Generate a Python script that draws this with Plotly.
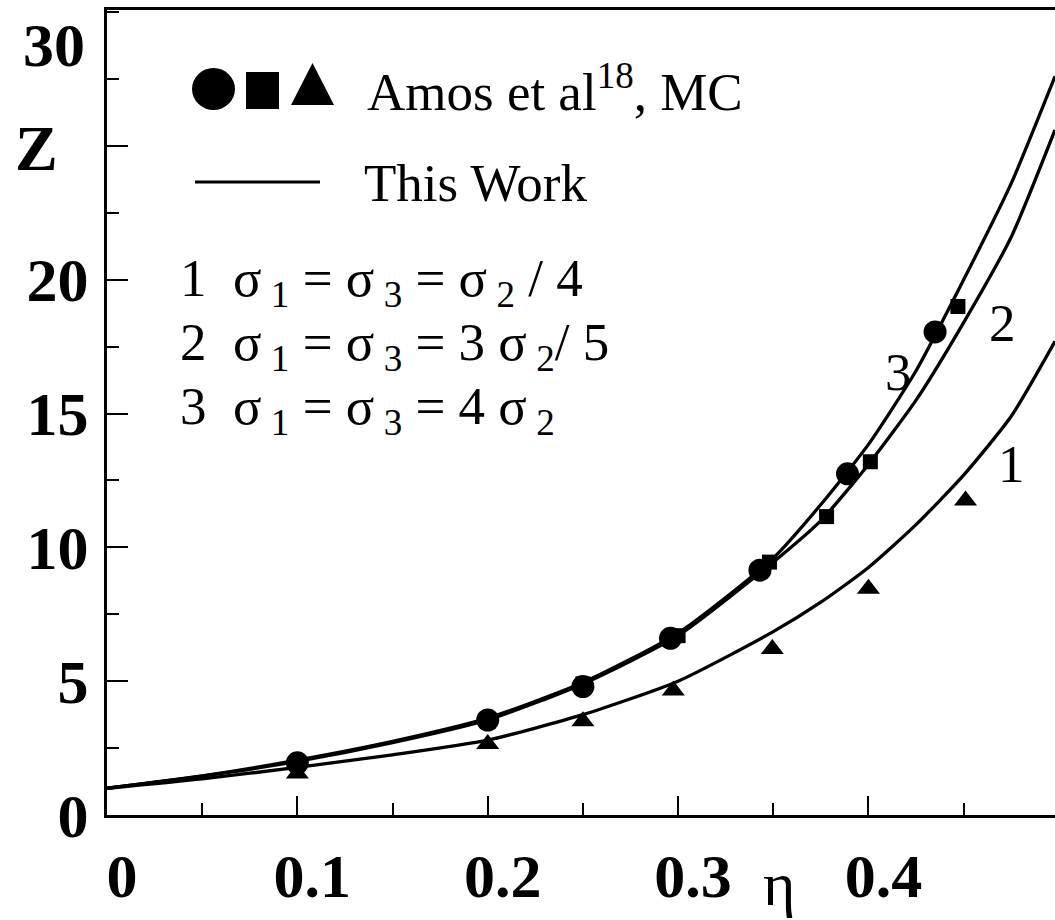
import plotly.graph_objects as go

# ---------------- data ----------------
eta_curve = [0.0, 0.05, 0.1, 0.15, 0.2, 0.25, 0.3, 0.35, 0.375, 0.4, 0.425, 0.45, 0.475, 0.498]
z_curve1 = [1.0, 1.35, 1.78, 2.25, 2.8, 3.75, 5.0, 6.85, 7.95, 9.25, 10.85, 12.7, 14.9, 17.7]
z_curve2 = [1.0, 1.45, 2.0, 2.7, 3.55, 4.9, 6.7, 9.45, 11.0, 13.1, 15.5, 18.4, 21.6, 25.6]
z_curve3 = [1.0, 1.46, 2.05, 2.75, 3.62, 4.95, 6.8, 9.6, 11.6, 13.85, 16.6, 20.0, 23.6, 27.6]

eta_circle = [0.1, 0.2, 0.25, 0.296, 0.343, 0.389, 0.435]
z_circle = [1.95, 3.55, 4.8, 6.6, 9.15, 12.75, 18.05]
eta_square = [0.1, 0.2, 0.25, 0.3, 0.348, 0.378, 0.401, 0.447]
z_square = [1.9, 3.5, 4.9, 6.7, 9.45, 11.15, 13.2, 19.0]
eta_triangle = [0.1, 0.2, 0.25, 0.2975, 0.3495, 0.4, 0.451]
z_triangle = [1.55, 2.65, 3.5, 4.65, 6.2, 8.45, 11.75]

x_tickvals = [0, 0.1, 0.2, 0.3, 0.4]
x_ticktext = ["0", "0.1", "0.2", "0.3", "0.4"]
y_tickvals = [0, 5, 10, 15, 20, 25]
y_ticktext = ["0", "5", "10", "15", "20", ""]

curve_labels = ["1", "2", "3"]
legend_lines = [
    "1  σ<sub> 1</sub> = σ<sub> 3</sub> = σ<sub> 2</sub> / 4",
    "2  σ<sub> 1</sub> = σ<sub> 3</sub> = 3 σ<sub> 2</sub>/ 5",
    "3  σ<sub> 1</sub> = σ<sub> 3</sub> = 4 σ<sub> 2</sub>",
]

# ---------------- layout geometry ----------------
W, H = 1055, 920
L, T, B = 107, 10, 105
PW, PH = W - L, H - T - B
def px(x):
    return (x - L) / PW
def py(y):
    return (H - B - y) / PH

SERIF = "Liberation Serif, Times New Roman, serif"
BLACK = "black"
TICKFONT = dict(family=SERIF, size=62, color=BLACK, weight="bold")

fig = go.Figure()
for z in (z_curve1, z_curve2, z_curve3):
    fig.add_trace(go.Scatter(x=eta_curve, y=z, mode="lines",
                             line=dict(color=BLACK, width=3.3, shape="spline", smoothing=0.6),
                             showlegend=False, hoverinfo="skip"))
fig.add_trace(go.Scatter(x=eta_square, y=z_square, mode="markers",
                         marker=dict(symbol="square", size=15, color=BLACK), showlegend=False))
fig.add_trace(go.Scatter(x=eta_circle, y=z_circle, mode="markers",
                         marker=dict(symbol="circle", size=23, color=BLACK), showlegend=False))
fig.add_trace(go.Scatter(x=eta_triangle, y=z_triangle, mode="markers",
                         marker=dict(symbol="triangle-up", size=20, color=BLACK), showlegend=False))

fig.update_layout(
    width=W, height=H,
    margin=dict(l=L, r=0, t=T, b=B),
    paper_bgcolor="white", plot_bgcolor="white",
    font=dict(family=SERIF, color=BLACK),
    xaxis=dict(range=[0, 0.498], tickvals=x_tickvals, ticktext=x_ticktext,
               ticks="inside", ticklen=19, tickwidth=2, tickcolor=BLACK,
               minor=dict(dtick=0.05, tick0=0, ticks="inside", ticklen=12, tickwidth=2, tickcolor=BLACK),
               showline=True, linewidth=3, linecolor=BLACK, mirror=True,
               showgrid=False, zeroline=False,
               tickfont=TICKFONT, ticklabelshift=15, ticklabelstandoff=5),
    yaxis=dict(range=[0, 30.08], tickvals=y_tickvals, ticktext=y_ticktext,
               ticks="inside", ticklen=21, tickwidth=2, tickcolor=BLACK,
               minor=dict(dtick=2.5, tick0=0, ticks="inside", ticklen=12, tickwidth=2, tickcolor=BLACK),
               showline=True, linewidth=3, linecolor=BLACK, mirror=False,
               showgrid=False, zeroline=False,
               tickfont=TICKFONT, ticklabelstandoff=3),
)

ann = []
# "30" label, shifted down like the original
ann.append(dict(x=px(87), y=py(45), xref="paper", yref="paper", text="<b>30</b>",
                xanchor="right", yanchor="middle", showarrow=False,
                font=dict(family=SERIF, size=62, color=BLACK)))
# axis titles
ann.append(dict(x=px(36), y=py(149), xref="paper", yref="paper", text="<b>Z</b>",
                xanchor="center", yanchor="middle", showarrow=False,
                font=dict(family=SERIF, size=64, color=BLACK)))
ann.append(dict(x=px(779), y=py(884), xref="paper", yref="paper", text="η",
                xanchor="center", yanchor="middle", showarrow=False,
                font=dict(family=SERIF, size=62, color=BLACK)))
# legend texts
ann.append(dict(x=px(365), y=py(88), xref="paper", yref="paper",
                text="Amos et al<sup>18</sup>, MC", xanchor="left", yanchor="middle",
                showarrow=False, font=dict(family=SERIF, size=53, color=BLACK)))
ann.append(dict(x=px(362), y=py(183), xref="paper", yref="paper",
                text="This Work", xanchor="left", yanchor="middle",
                showarrow=False, font=dict(family=SERIF, size=53, color=BLACK)))
for i, line in enumerate(legend_lines):
    ann.append(dict(x=px(178), y=py(282 + 64 * i), xref="paper", yref="paper",
                    text=line, xanchor="left", yanchor="middle", showarrow=False,
                    font=dict(family=SERIF, size=53, color=BLACK)))
# curve number labels (data coordinates)
ann.append(dict(x=0.475, y=13.1, text=curve_labels[0], showarrow=False,
                xanchor="center", yanchor="middle", font=dict(family=SERIF, size=53, color=BLACK)))
ann.append(dict(x=0.4705, y=18.4, text=curve_labels[1], showarrow=False,
                xanchor="center", yanchor="middle", font=dict(family=SERIF, size=53, color=BLACK)))
ann.append(dict(x=0.416, y=16.55, text=curve_labels[2], showarrow=False,
                xanchor="center", yanchor="middle", font=dict(family=SERIF, size=53, color=BLACK)))
fig.update_layout(annotations=ann)

# legend symbols as shapes
shapes = [
    dict(type="circle", xref="paper", yref="paper", x0=px(192), x1=px(235), y0=py(110), y1=py(68),
         fillcolor=BLACK, line=dict(width=0)),
    dict(type="rect", xref="paper", yref="paper", x0=px(246), x1=px(279), y0=py(109), y1=py(72),
         fillcolor=BLACK, line=dict(width=0)),
    dict(type="path", xref="paper", yref="paper",
         path=f"M {px(291)} {py(105)} L {px(334)} {py(105)} L {px(312.5)} {py(63)} Z",
         fillcolor=BLACK, line=dict(width=0)),
    dict(type="line", xref="paper", yref="paper", x0=px(195), x1=px(320), y0=py(182), y1=py(182),
         line=dict(color=BLACK, width=3)),
]
fig.update_layout(shapes=shapes)

fig.write_html("out.html")
